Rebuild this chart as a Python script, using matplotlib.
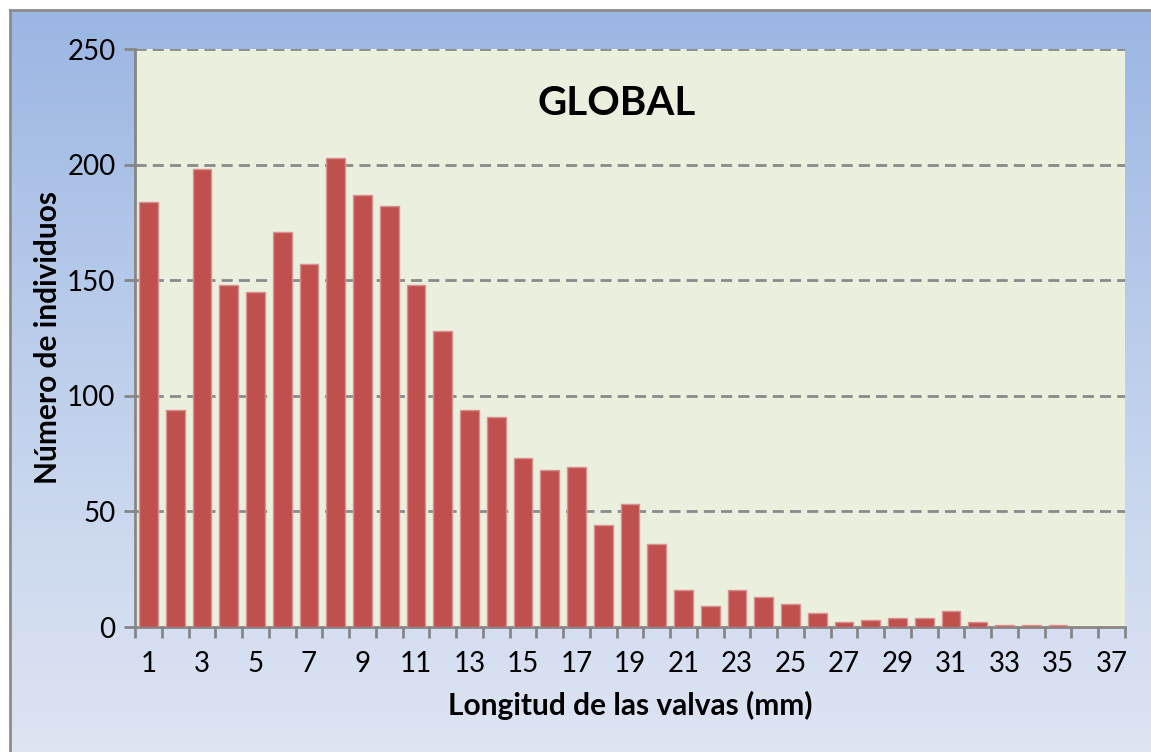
import numpy as np
import matplotlib
matplotlib.use("Agg")
import matplotlib.pyplot as plt
from matplotlib.colors import LinearSegmentedColormap

categories = list(range(1, 38))
counts = [184, 94, 198, 148, 145, 171, 157, 203, 187, 182, 148, 128, 94, 91,
          73, 68, 69, 44, 53, 36, 16, 9, 16, 13, 10, 6, 2, 3, 4, 4, 7, 2,
          1, 1, 1, 0, 0]
tick_labels = [str(c) if c % 2 == 1 else "" for c in categories]
yticks = [0, 50, 100, 150, 200, 250]

W, H = 1151, 752
fig = plt.figure(figsize=(W / 100, H / 100), dpi=100)
fig.patch.set_facecolor("white")

# gradient chart-area background
bg = fig.add_axes([0, 0, 1, 1], zorder=0)
bg.set_axis_off()
cmap = LinearSegmentedColormap.from_list("g", ["#9BB6E3", "#BFD0EC", "#DEE5F3"])
grad = np.linspace(0, 1, 256).reshape(-1, 1)
x0 = 10 / W
y1 = 1 - 10 / H
bg.imshow(grad, aspect="auto", cmap=cmap, extent=[x0, 1.0, 0.0, y1],
          origin="upper", zorder=0)
bg.set_xlim(0, 1)
bg.set_ylim(0, 1)
bg.plot([x0, x0], [0, y1], color="#8C8C8C", lw=2, zorder=2)
bg.plot([x0, 1], [y1, y1], color="#8C8C8C", lw=2, zorder=2)

ax = fig.add_axes([135 / W, 1 - 627 / H, (1125 - 135) / W, (627 - 49) / H], zorder=1)
ax.set_facecolor("#EBF0DE")

x = np.arange(len(categories))
ax.bar(x, counts, width=0.70, color="#C0504D", edgecolor="#D9908E", linewidth=1.0, zorder=3)

ax.set_xlim(-0.5, len(categories) - 0.5)
ax.set_ylim(0, 250)
ax.set_yticks(yticks)
ax.set_yticklabels([str(v) for v in yticks])
ax.set_xticks(x)
ax.set_xticklabels(tick_labels)
ax.set_xticks(np.arange(-0.5, len(categories)), minor=True)

for v in yticks[1:]:
    ax.axhline(v, color="#8A8A8A", lw=2, ls=(0, (4, 2.2)), zorder=2)

for s in ["top", "right"]:
    ax.spines[s].set_visible(False)
for s in ["left", "bottom"]:
    ax.spines[s].set_color("#868686")
    ax.spines[s].set_linewidth(2)

font = "Lato"
ax.tick_params(axis="x", which="major", length=0, pad=17, labelsize=20, labelcolor="black")
ax.tick_params(axis="x", which="minor", length=8, width=2, color="#868686", direction="out")
ax.tick_params(axis="y", which="major", length=8, width=2, color="#868686", direction="out",
               pad=6, labelsize=20, labelcolor="black")
for lab in ax.get_xticklabels() + ax.get_yticklabels():
    lab.set_fontfamily(font)

ax.set_xlabel("Longitud de las valvas (mm)", fontsize=21.5, fontweight="bold",
              fontfamily=font, labelpad=10)
ax.set_ylabel("Número de individuos", fontsize=21.5, fontweight="bold",
              fontfamily=font, labelpad=4)

ax.text(0.487, 0.906, "GLOBAL", transform=ax.transAxes, ha="center", va="center",
        fontsize=29, fontweight="bold", fontfamily=font, color="black", zorder=5)

fig.savefig("out.png", dpi=100, facecolor="white")
